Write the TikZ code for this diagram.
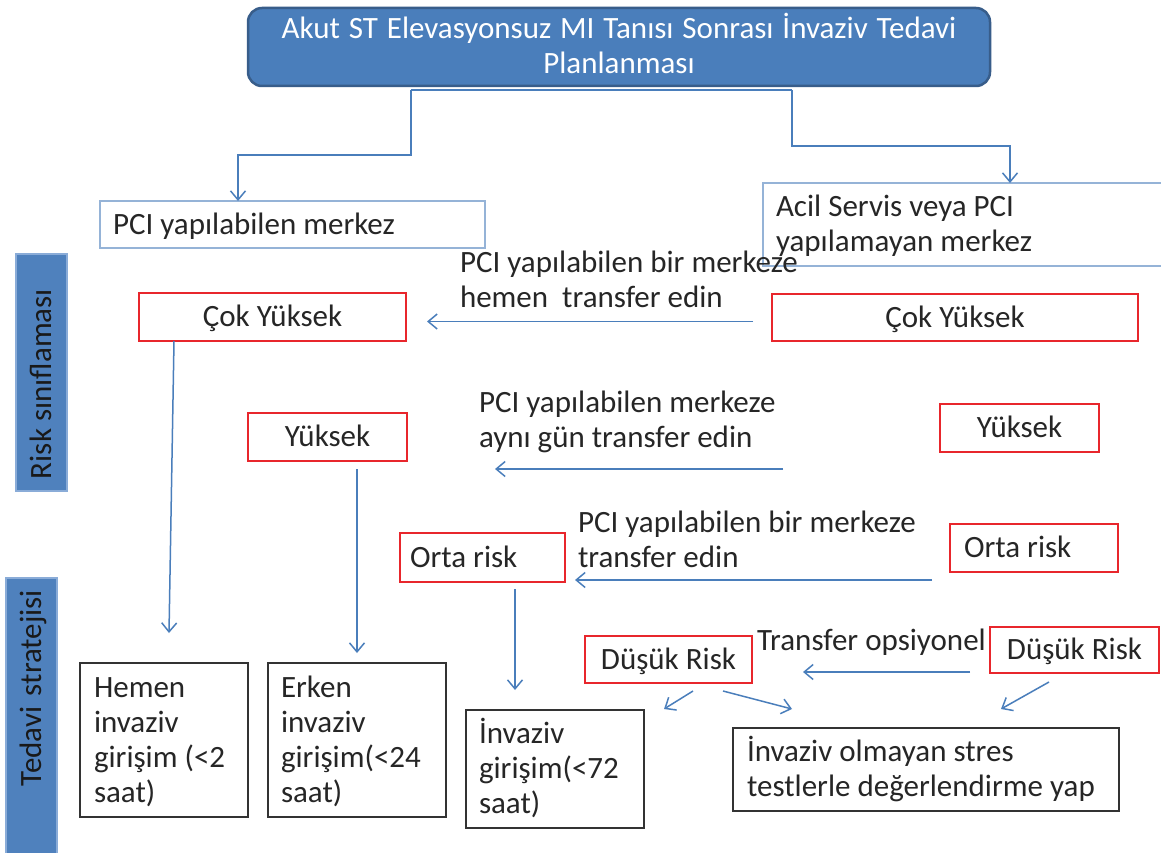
\documentclass[tikz,border=0pt]{standalone}
\usepackage{fontspec}
\setmainfont{Carlito}
\usetikzlibrary{arrows.meta}

\definecolor{ink}{HTML}{262626}
\definecolor{titlefill}{HTML}{4A7EBB}
\definecolor{titleedge}{HTML}{385D8A}
\definecolor{barfill}{HTML}{4F81BD}
\definecolor{baredge}{HTML}{8AACD8}
\definecolor{paleblue}{HTML}{95B3D7}
\definecolor{riskred}{HTML}{E8262C}
\definecolor{boxgray}{HTML}{333333}
\definecolor{link}{HTML}{4A7EBB}

% fixed line box (27pt above, 8pt below the baseline) and the font's own
% word spaces instead of the fixed ones set by align=...
\newcommand{\ls}{\spaceskip=0pt\xspaceskip=0pt\rule[-8pt]{0pt}{35pt}}

\begin{document}
\begin{tikzpicture}[x=1pt,y=-1pt,
  every node/.style={font=\fontsize{31}{35}\selectfont, text=ink,
    inner ysep=0pt, outer sep=0pt},
  titlebox/.style={draw=titleedge, line width=2.5pt, fill=titlefill,
    rounded corners=14pt, text=white, align=center, anchor=north west,
    inner xsep=0pt},
  centerbox/.style={draw=paleblue, line width=1.2pt, anchor=north west,
    align=left},
  riskbox/.style={draw=riskred, line width=1.5pt, anchor=north west,
    inner xsep=0pt},
  riskleft/.style={draw=riskred, line width=1.5pt, anchor=north west,
    align=left},
  stratbox/.style={draw=boxgray, line width=1.2pt, anchor=north west,
    align=left},
  sidebar/.style={draw=baredge, line width=1.2pt, fill=barfill,
    text=black!90, rotate=90, inner xsep=12pt},
  lbl/.style={anchor=north west, align=left, inner sep=0pt},
  conn/.style={draw=link, line width=1.5pt},
  arr/.style={conn, -{Straight Barb[length=9pt,width=15pt]}}
]
\useasboundingbox (0,0) rectangle (1161,853);
\fill[white] (0,0) rectangle (1161,853);

% heading
\node[titlebox, minimum width=742pt, minimum height=78pt, text width=742pt]
  (title) at (248,8)
  {\ls Akut ST Elevasyonsuz MI Tanısı Sonrası İnvaziv Tedavi\\ Planlanması\ls};

% centre types
\node[centerbox, minimum width=385pt, minimum height=47pt,
  text width=359pt, inner xsep=13pt] (pci) at (100,201)
  {\ls PCI yapılabilen merkez};
\node[centerbox, minimum width=420pt, minimum height=83pt,
  text width=394pt, inner xsep=13pt] (acil) at (763,183)
  {\ls Acil Servis veya PCI\\ yapılamayan merkez\ls};

% side bars
\node[sidebar, minimum width=237pt, minimum height=51pt, text width=213pt,
  align=left] (riskbar) at (41.5,372.5) {\ls Risk sınıflaması};
\node[sidebar, minimum width=282pt, minimum height=51pt, text width=258pt,
  align=right] (stratbar) at (31.5,719) {\ls Tedavi stratejisi};

% risk classes, PCI centre side
\node[riskbox, minimum width=267pt, minimum height=48pt] (cokL) at (139,293)
  {\ls Çok Yüksek};
\node[riskbox, minimum width=159pt, minimum height=48pt] (yukL) at (248,413)
  {\ls Yüksek};
\node[riskleft, minimum width=165pt, minimum height=49pt, text width=145pt,
  inner xsep=10pt] (ortaL) at (400,533) {\ls Orta risk};
\node[riskbox, minimum width=167pt, minimum height=47pt] (dusL) at (585,636)
  {\ls Düşük Risk};

% risk classes, non-PCI centre side
\node[riskbox, minimum width=366pt, minimum height=47pt] (cokR) at (772,294)
  {\ls Çok Yüksek};
\node[riskbox, minimum width=159pt, minimum height=48pt] (yukR) at (940,404)
  {\ls Yüksek};
\node[riskleft, minimum width=168pt, minimum height=48pt, text width=140pt,
  inner xsep=14pt] (ortaR) at (950,524) {\ls Orta risk};
\node[riskbox, minimum width=169pt, minimum height=46pt] (dusR) at (990,627)
  {\ls Düşük Risk};

% treatment strategies
\node[stratbox, minimum width=168pt, minimum height=154pt, text width=140pt,
  inner xsep=14pt] (hemen) at (80,663)
  {\ls Hemen\\ invaziv\\ girişim (<2\\ saat)\ls};
\node[stratbox, minimum width=178pt, minimum height=154pt, text width=152pt,
  inner xsep=13pt] (erken) at (268,663)
  {\ls Erken\\ invaziv\\ girişim(<24\\ saat)\ls};
\node[stratbox, minimum width=178pt, minimum height=118pt, text width=152pt,
  inner xsep=13pt] (inv) at (466,710)
  {\ls İnvaziv\\ girişim(<72\\ saat)\ls};
\node[stratbox, minimum width=386pt, minimum height=83pt, text width=358pt,
  inner xsep=14pt] (stres) at (733,728)
  {\ls İnvaziv olmayan stres\\ testlerle değerlendirme yap\ls};

% transfer notes
\node[lbl] (noteA) at (460,245)
  {\ls PCI yapılabilen bir merkeze\\ hemen\ \ transfer edin};
\node[lbl] (noteB) at (479,385)
  {\ls PCI yapılabilen merkeze\\ aynı gün transfer edin};
\node[lbl] (noteC) at (578,505)
  {\ls PCI yapılabilen bir merkeze\\ transfer edin};
\node[lbl] (noteD) at (757,623) {\ls Transfer opsiyonel};

% split from the heading
\draw[conn] ([xshift=-208pt,yshift=-4pt]title.south)
  -- ([xshift=173pt,yshift=-4pt]title.south);
\draw[arr] ([xshift=-208pt,yshift=-4pt]title.south) -- ++(0,65)
  -| ([xshift=-54.5pt]pci.north);
\draw[arr] ([xshift=173pt,yshift=-4pt]title.south) -- ++(0,56)
  -| ([xshift=37pt]acil.north);

% transfers towards the PCI centre
\draw[arr] ([xshift=-19pt,yshift=-4pt]cokR.west)
  -- ([xshift=21pt,yshift=-4.5pt]cokL.east);
\draw[arr] ([xshift=-157pt,yshift=-41pt]yukR.west)
  -- ([xshift=88pt,yshift=-32pt]yukL.east);
\draw[arr] ([xshift=-18pt,yshift=-32pt]ortaR.west)
  -- ([xshift=10pt,yshift=-22.5pt]ortaL.east);
\draw[arr] ([xshift=-20pt,yshift=-22pt]dusR.west)
  -- ([xshift=51pt,yshift=-12.5pt]dusL.east);

% risk class to strategy
\draw[arr] ([xshift=-98.5pt]cokL.south) -- ([xshift=5pt,yshift=30pt]hemen.north);
\draw[arr] ([yshift=-8pt]yukL.south -| erken.north) -- ([yshift=10pt]erken.north);
\draw[arr] ([xshift=32.5pt,yshift=-7pt]ortaL.south)
  -- ([xshift=-40pt,yshift=20pt]inv.north);
\draw[arr] ([xshift=24.5pt,yshift=-8pt]dusL.south)
  -- ([xshift=20pt,yshift=1pt]inv.north east);
\draw[arr] ([xshift=54.5pt,yshift=-8pt]dusL.south)
  -- ([xshift=-134pt,yshift=19pt]stres.north);
\draw[arr] ([xshift=-25.5pt,yshift=-9pt]dusR.south)
  -- ([xshift=75pt,yshift=19pt]stres.north);
\end{tikzpicture}
\end{document}
